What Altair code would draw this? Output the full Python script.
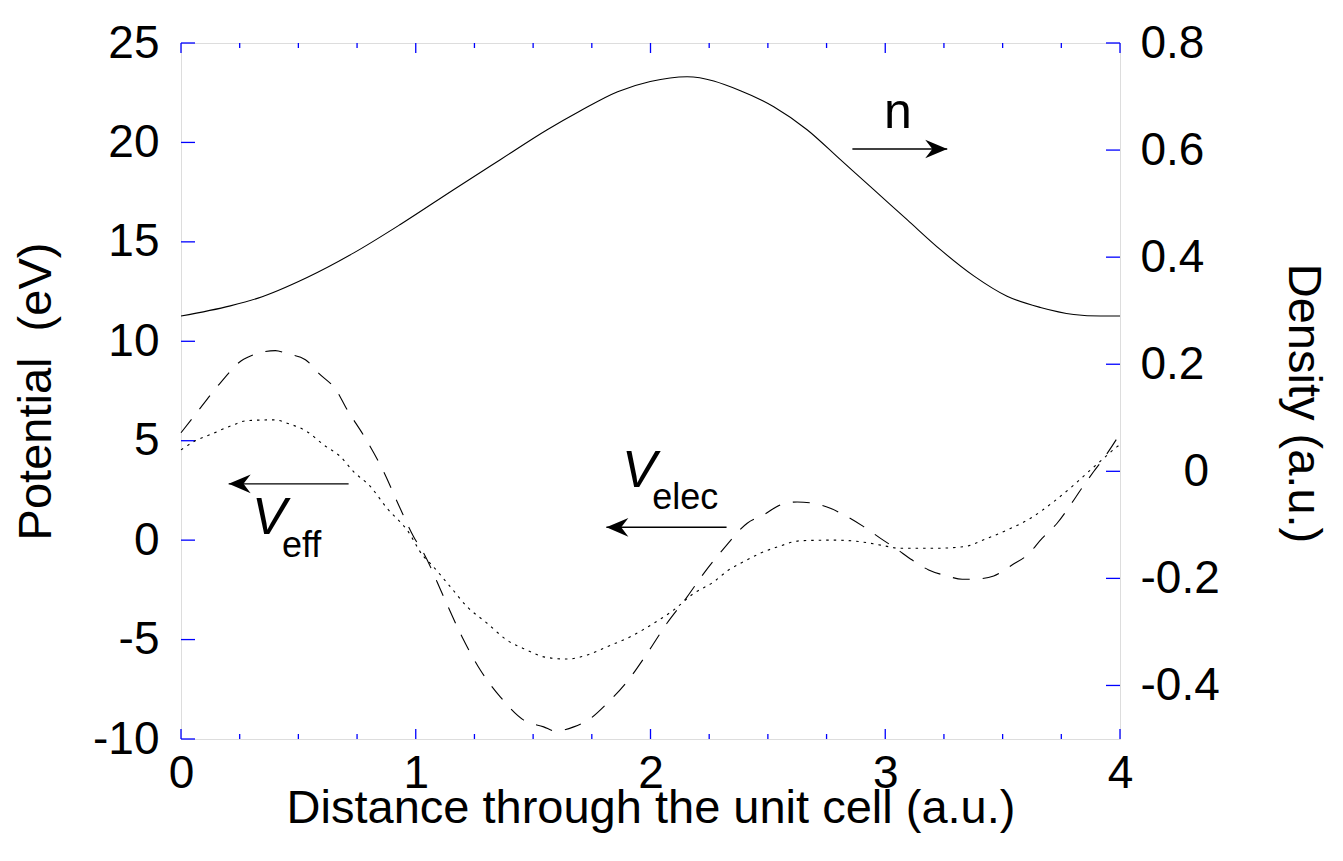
import altair as alt
import pandas as pd

# ---------------- data ----------------
# density n (right axis)
n_x = [0.0, 0.21, 0.325, 0.537, 0.736, 0.934, 1.161, 1.36, 1.56, 1.70, 1.86, 1.999, 2.156,
       2.383, 2.525, 2.667, 2.809, 2.951, 3.093, 3.235, 3.377, 3.519, 3.661, 3.803, 3.917, 4.0]
n_y = [0.290, 0.309, 0.323, 0.362, 0.408, 0.461, 0.526, 0.582, 0.638, 0.673, 0.709, 0.728, 0.737,
       0.711, 0.681, 0.638, 0.582, 0.526, 0.470, 0.414, 0.365, 0.327, 0.306, 0.293, 0.290, 0.290]

# V_elec (dashed, left axis)
elec_x = [0.0, 0.054, 0.167, 0.267, 0.402, 0.452, 0.53, 0.586, 0.665, 0.70, 0.785, 0.863, 0.927,
          0.991, 1.034, 1.119, 1.197, 1.275, 1.36, 1.46, 1.545, 1.595, 1.673, 1.744, 1.815, 1.90,
          1.986, 2.07, 2.156, 2.227, 2.31, 2.412, 2.482, 2.553, 2.625, 2.695, 2.766, 2.838, 2.908,
          2.98, 3.044, 3.115, 3.185, 3.264, 3.328, 3.392, 3.462, 3.54, 3.605, 3.668, 3.732, 3.789,
          3.832, 3.888, 3.931, 4.0]
elec_y = [5.4, 6.21, 7.9, 9.1, 9.53, 9.37, 9.07, 8.4, 7.47, 6.72, 5.13, 3.45, 1.77,
          0.17, -0.66, -2.85, -4.86, -6.53, -7.88, -9.05, -9.39, -9.6, -9.39, -8.97, -8.21, -7.12,
          -5.69, -4.18, -2.85, -1.67, -0.45, 0.85, 1.27, 1.77, 1.92, 1.85, 1.6, 1.18, 0.68,
          0.09, -0.41, -1.0, -1.5, -1.8, -1.97, -1.95, -1.8, -1.25, -0.75, 0.09, 0.85, 1.77,
          2.52, 3.45, 4.12, 5.35]

# V_eff (dotted, left axis)
eff_x = [0.0, 0.054, 0.139, 0.224, 0.281, 0.402, 0.452, 0.537, 0.608, 0.679, 0.735, 0.807, 0.878,
         0.963, 1.034, 1.062, 1.147, 1.219, 1.304, 1.389, 1.474, 1.545, 1.645, 1.73, 1.815, 1.914,
         2.014, 2.099, 2.184, 2.269, 2.333, 2.383, 2.468, 2.553, 2.638, 2.781, 2.894, 2.98, 3.065,
         3.207, 3.335, 3.434, 3.519, 3.619, 3.718, 3.803, 3.874, 3.931, 3.988, 4.0]
eff_y = [4.54, 4.95, 5.38, 5.80, 6.01, 6.05, 5.88, 5.46, 4.79, 4.2, 3.45, 2.69, 1.6,
         0.51, -0.83, -1.17, -2.34, -3.35, -4.18, -5.03, -5.53, -5.87, -5.98, -5.78, -5.36, -4.86,
         -4.18, -3.51, -2.68, -2.1, -1.5, -1.17, -0.66, -0.29, -0.03, 0.0, -0.08, -0.25, -0.41,
         -0.41, -0.33, 0.09, 0.51, 1.10, 1.94, 2.77, 3.53, 4.12, 4.7, 4.8]

# axis ticks
x_major = [0, 1, 2, 3, 4]
x_minor = [0.25, 0.5, 0.75, 1.25, 1.5, 1.75, 2.25, 2.5, 2.75, 3.25, 3.5, 3.75]
yl_ticks = [-10, -5, 0, 5, 10, 15, 20, 25]
yr_ticks = [-0.4, -0.2, 0.0, 0.2, 0.4, 0.6, 0.8]

# annotations (data units of x and left axis)
arrow_x1 = [2.860, 0.714, 2.324]
arrow_x2 = [3.264, 0.203, 1.812]
arrow_y = [19.67, 2.83, 0.646]
arrow_dir = ["right", "left", "left"]

big_txt = ["n", "V", "V"]
big_x = [3.054, 0.302, 1.879]
big_y = [20.73, 0.31, 2.675]
sub_txt = ["eff", "elec"]
sub_x = [0.43, 2.007]
sub_y = [-0.83, 1.55]

# ---------------- chart ----------------
W, H = 939, 696
FONT = "Liberation Sans"
BLUE = "#0000ff"

xs = alt.Scale(domain=[0, 4], nice=False, zero=False)
yl = alt.Scale(domain=[-10, 25], nice=False, zero=False)
yr = alt.Scale(domain=[-0.5, 0.8], nice=False, zero=False)

ax_x = alt.Axis(values=x_major, format="d", labelFontSize=46, labelPadding=12, ticks=False,
                domain=False, grid=False, labelFlush=False, labelOverlap=False,
                title="Distance through the unit cell (a.u.)", titleFontSize=47,
                titleBaseline="alphabetic", titleY=83, titleFontWeight="normal")
ax_yl = alt.Axis(values=yl_ticks, orient="left", labelFontSize=46, labelPadding=22, ticks=False,
                 domain=False, grid=False, labelFlush=False, labelOverlap=False,
                 labelExpr="replace(datum.label, '\u2212', '-')",
                 title="Potential\u00a0 (eV)", titleFontSize=47, titleBaseline="alphabetic",
                 titleX=-130.7, titleFontWeight="normal")
ax_yr = alt.Axis(values=yr_ticks, orient="right", labelFontSize=46,
                 labelPadding={"condition": {"test": "datum.value == 0", "value": 63}, "value": 20},
                 ticks=False, domain=False, grid=False, labelFlush=False, labelOverlap=False,
                 labelExpr="datum.value == 0 ? '0' : replace(format(datum.value, '.1f'), '\u2212', '-')",
                 title="Density (a.u.)", titleFontSize=47, titleBaseline="alphabetic",
                 titleX=168.5, titleY=360, titleFontWeight="normal")

X = lambda f: alt.X(f, type="quantitative", scale=xs, axis=ax_x)
YL = lambda f: alt.Y(f, type="quantitative", scale=yl, axis=ax_yl)
YR = lambda f: alt.Y(f, type="quantitative", scale=yr, axis=ax_yr)

df_elec = pd.DataFrame({"x": elec_x, "v": elec_y})
df_eff = pd.DataFrame({"x": eff_x, "v": eff_y})
df_n = pd.DataFrame({"x": n_x, "n": n_y})

elec = alt.Chart(df_elec).mark_line(color="black", strokeWidth=1.1, strokeDash=[17, 13],
                                    interpolate="monotone").encode(x=X("x"), y=YL("v"))
eff = alt.Chart(df_eff).mark_line(color="black", strokeWidth=1.1, strokeDash=[2.5, 5],
                                  interpolate="monotone").encode(x=X("x"), y=YL("v"))
dens = alt.Chart(df_n).mark_line(color="black", strokeWidth=1.1,
                                 interpolate="monotone").encode(x=X("x"), y=YR("n"))

# ticks (inward)
df_xmaj = pd.DataFrame({"x": x_major})
df_xmin = pd.DataFrame({"x": x_minor})
t_bmaj = alt.Chart(df_xmaj).mark_rule(color=BLUE, strokeWidth=1.3).encode(
    x=X("x"), y=alt.value(H), y2=alt.value(H - 10))
t_tmaj = alt.Chart(df_xmaj).mark_rule(color=BLUE, strokeWidth=1.3).encode(
    x=X("x"), y=alt.value(0), y2=alt.value(10))
t_bmin = alt.Chart(df_xmin).mark_rule(color=BLUE, strokeWidth=1.3).encode(
    x=X("x"), y=alt.value(H), y2=alt.value(H - 5))
t_tmin = alt.Chart(df_xmin).mark_rule(color=BLUE, strokeWidth=1.3).encode(
    x=X("x"), y=alt.value(0), y2=alt.value(5))
t_left = alt.Chart(pd.DataFrame({"y": yl_ticks})).mark_rule(color=BLUE, strokeWidth=1.3).encode(
    y=YL("y"), x=alt.value(0), x2=alt.value(14))
t_right = alt.Chart(pd.DataFrame({"y": yr_ticks})).mark_rule(color=BLUE, strokeWidth=1.3).encode(
    y=YR("y"), x=alt.value(W - 14), x2=alt.value(W))

# arrows
df_arr = pd.DataFrame({"x1": arrow_x1, "x2": arrow_x2, "y": arrow_y, "d": arrow_dir})
shafts = alt.Chart(df_arr).mark_rule(color="black", strokeWidth=1.4).encode(
    x=X("x1"), x2="x2", y=YL("y"))
RIGHT_HEAD = "M0,0 L-2,-0.85 L-1.35,0 L-2,0.85 Z"
LEFT_HEAD = "M0,0 L2,-0.85 L1.35,0 L2,0.85 Z"
heads = alt.Chart(df_arr).mark_point(filled=True, size=484, opacity=1, color="black",
                                     strokeWidth=0).encode(
    x=X("x2"), y=YL("y"),
    shape=alt.Shape("d:N", scale=alt.Scale(domain=["right", "left"],
                                           range=[RIGHT_HEAD, LEFT_HEAD]), legend=None))

df_big = pd.DataFrame({"t": big_txt, "x": big_x, "y": big_y})
txt_n = alt.Chart(df_big.iloc[[0]]).mark_text(font=FONT, fontSize=50, align="center",
                                              baseline="alphabetic", color="black").encode(
    x=X("x"), y=YL("y"), text="t:N")
txt_v = alt.Chart(df_big.iloc[[1, 2]]).mark_text(font=FONT, fontSize=52, fontStyle="italic",
                                                 align="left", baseline="alphabetic",
                                                 color="black").encode(
    x=X("x"), y=YL("y"), text="t:N")
df_sub = pd.DataFrame({"t": sub_txt, "x": sub_x, "y": sub_y})
txt_sub = alt.Chart(df_sub).mark_text(font=FONT, fontSize=36, align="left",
                                      baseline="alphabetic", color="black").encode(
    x=X("x"), y=YL("y"), text="t:N")

left_group = alt.layer(t_bmaj, t_tmaj, t_bmin, t_tmin, t_left, elec, eff,
                       shafts, heads, txt_n, txt_v, txt_sub)
right_group = alt.layer(t_right, dens)

chart = alt.layer(left_group, right_group).resolve_scale(y="independent").properties(
    width=W, height=H,
    padding={"left": 173, "top": 35, "right": 214, "bottom": 110},
    autosize=alt.AutoSizeParams(type="none"),
).configure_view(stroke=BLUE, strokeWidth=1.5).configure_axis(
    labelFont=FONT, titleFont=FONT, labelColor="black", titleColor="black"
).configure(background="white")

chart.save("out.html", embed_options={"renderer": "svg", "actions": False})
